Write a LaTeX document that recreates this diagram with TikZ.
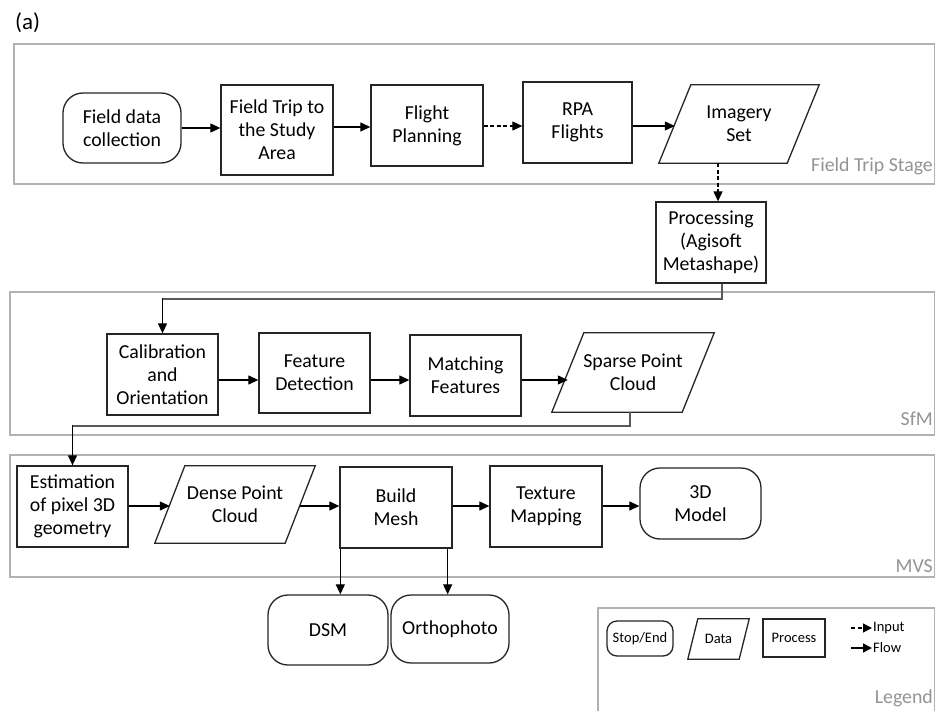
\documentclass[tikz,border=0pt]{standalone}
\usepackage{fontspec}
\setmainfont{Carlito}
\usetikzlibrary{arrows.meta,calc}
\newcommand\mainfnt{\fontsize{19.8}{23}\selectfont}
\newcommand\smallfnt{\fontsize{14.5}{16}\selectfont}
\newcommand\drawpara[2]{\draw[shapeline] ($(#1.north west)+(#2/2,0)$) -- ($(#1.north east)+(#2/2,0)$) -- ($(#1.south east)-(#2/2,0)$) -- ($(#1.south west)-(#2/2,0)$) -- cycle;}
\tikzset{
  shapeline/.style={draw=black!85, line width=1.3pt},
  procbox/.style={shapeline, rectangle, align=center, font=\mainfnt, inner sep=0pt},
  termbox/.style={shapeline, rectangle, rounded corners=20pt, align=center, font=\mainfnt, inner sep=0pt},
  databox/.style={rectangle, align=center, font=\mainfnt, inner sep=0pt},
  stagebox/.style={draw=black!30, line width=1.6pt},
  stagelabel/.style={anchor=base east, text=black!42, font=\mainfnt, inner sep=0pt},
  flow/.style={draw=black, line width=1.2pt, -{Triangle[length=10pt,width=9pt]}},
  inputflow/.style={flow, dash pattern=on 4pt off 2.5pt},
  linkline/.style={draw=black!65, line width=1.8pt},
}
\begin{document}
\begin{tikzpicture}[x=1pt,y=-1pt]
\useasboundingbox (0,0) rectangle (936,711);
\fill[white] (0,0) rectangle (936,711);

\node[anchor=base west, font=\fontsize{23}{26}\selectfont, inner sep=0pt] (lab) at (15,30) {(a)};

% stage frames
\draw[stagebox] (14,44) rectangle (934.5,184);
\draw[stagebox] (10,292) rectangle (934.5,435);
\draw[stagebox] (10,455) rectangle (934.5,577);
\draw[stagebox] (598,711) -- (598,608) -- (934.5,608) -- (934.5,711);

\node[stagelabel] (l1) at (933,172) {Field Trip Stage};
\node[stagelabel] (l2) at (933,425) {SfM};
\node[stagelabel] (l3) at (933,572) {MVS};
\node[stagelabel] (l4) at (933,703) {Legend};

% Field trip stage
\node[termbox, minimum width=118pt, minimum height=70pt] (fdc) at (122,128) {Field data\\collection};
\node[procbox, minimum width=112pt, minimum height=90pt] (ft) at (277,130) {Field Trip to\\the Study\\Area};
\node[procbox, minimum width=112pt, minimum height=81pt] (fp) at (427,125.5) {Flight\\Planning};
\node[procbox, minimum width=109pt, minimum height=81pt] (rpa) at (577.5,122.5) {RPA\\Flights};
\node[databox, minimum width=128pt, minimum height=78pt] (img) at (739,124) {Imagery\\Set};
\drawpara{img}{32}

\node[procbox, minimum width=110pt, minimum height=81pt] (proc) at (711,242.5) {Processing\\(Agisoft\\Metashape)};

% SfM
\node[procbox, minimum width=111pt, minimum height=81pt] (cal) at (162.5,374.5) {Calibration\\and\\Orientation};
\node[procbox, minimum width=111pt, minimum height=80pt] (fd) at (314.5,373) {Feature\\Detection};
\node[procbox, minimum width=111pt, minimum height=81pt] (mf) at (465.5,375.5) {Matching\\Features};
\node[databox, minimum width=130pt, minimum height=79pt] (spc) at (633,372.5) {Sparse Point\\Cloud};
\drawpara{spc}{32}

% MVS
\node[procbox, minimum width=111pt, minimum height=81pt] (est) at (72.5,506.5) {Estimation\\of pixel 3D\\geometry};
\node[databox, minimum width=130pt, minimum height=77pt] (dpc) at (235,504.5) {Dense Point\\Cloud};
\drawpara{dpc}{30}
\node[procbox, minimum width=112pt, minimum height=81pt] (bm) at (396,507.5) {Build\\Mesh};
\node[procbox, minimum width=112pt, minimum height=81pt] (tm) at (546,506.5) {Texture\\Mapping};
\node[termbox, minimum width=121pt, minimum height=71pt] (m3d) at (700.5,503.5) {3D\\Model};

\node[termbox, minimum width=120pt, minimum height=70pt] (dsm) at (328,630) {DSM};
\node[termbox, minimum width=118pt, minimum height=68pt] (ortho) at (450,629) {Orthophoto};

% legend
\node[termbox, rounded corners=10pt, font=\smallfnt, minimum width=66pt, minimum height=35pt] (lse) at (640,638.5) {Stop/End};
\node[databox, font=\smallfnt, minimum width=51pt, minimum height=40pt] (ldata) at (718.5,639) {Data};
\drawpara{ldata}{10}
\node[procbox, font=\smallfnt, minimum width=62pt, minimum height=38pt] (lproc) at (794,638) {Process};
\coordinate (li1) at (851,628);
\coordinate (li2) at (872,628);
\coordinate (lf1) at (851,648);
\coordinate (lf2) at (872,648);
\draw[inputflow, line width=1.3pt, -{Triangle[length=9pt,width=9pt]}] (li1) -- (li2);
\draw[flow, line width=1.5pt, -{Triangle[length=9pt,width=9pt]}] (lf1) -- (lf2);
\node[anchor=west, font=\smallfnt, inner sep=0pt] (lin) at (873,628) {Input};
\node[anchor=west, font=\smallfnt, inner sep=0pt] (lfl) at (873,648) {Flow};

% connectors
\draw[flow] (fdc.east) -- (fdc.east -| ft.west);
\draw[flow] (ft.east |- 0,127) -- (fp.west |- 0,127);
\draw[inputflow] (fp.east |- 0,126) -- (rpa.west |- 0,126);
\draw[flow] (rpa.east |- 0,126) -- ($(img.west)+(0,2)$);
\coordinate (pin) at (718,0);
\draw[inputflow] (img.south -| pin) -- (proc.north -| pin);

\coordinate (c1) at (722,299);
\draw[linkline] (proc.south -| c1) -- (c1) -- (c1 -| cal.north);
\draw[flow] ($(c1 -| cal.north)+(0,-0.9)$) -- (cal.north);

\draw[flow] (cal.east |- 0,380) -- (fd.west |- 0,380);
\draw[flow] (fd.east |- 0,380) -- (mf.west |- 0,380);
\draw[flow] (mf.east |- 0,380) -- ($(spc.west)+(0,7.5)$);

\coordinate (c2) at (630,426);
\draw[linkline] (spc.south -| c2) -- (c2) -- (c2 -| est.north);
\draw[flow] ($(c2 -| est.north)+(0,-0.9)$) -- (est.north);

\draw[flow] (est.east |- 0,506) -- ($(dpc.west)+(0,1.5)$);
\draw[flow] ($(dpc.east)+(0,1.5)$) -- (bm.west |- 0,506);
\draw[flow] (bm.east |- 0,506) -- (tm.west |- 0,506);
\draw[flow] (tm.east |- 0,506) -- (m3d.west |- 0,506);

\draw[flow] ($(bm.south west)+(1,0)$) -- ($(bm.south west |- dsm.north)+(1,0)$);
\draw[flow] ($(bm.south east)+(-5,0)$) -- ($(bm.south east |- ortho.north)+(-5,0)$);
\end{tikzpicture}
\end{document}
